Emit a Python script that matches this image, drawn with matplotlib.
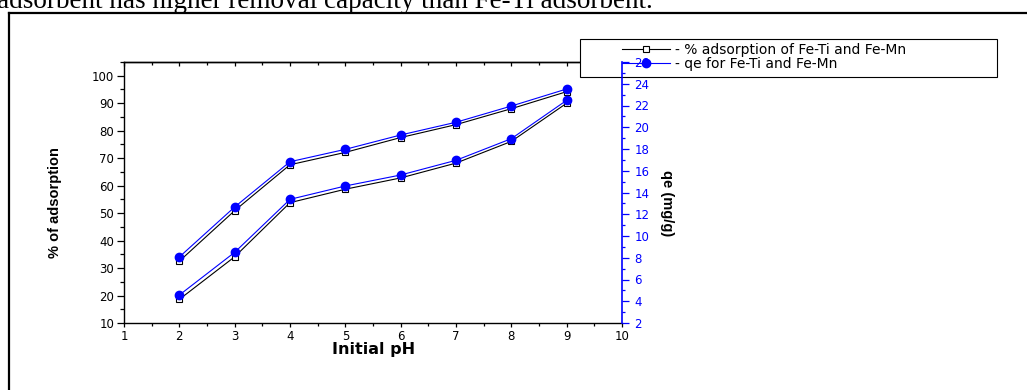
import matplotlib
matplotlib.use("Agg")
import matplotlib.pyplot as plt
from matplotlib.lines import Line2D
from matplotlib.patches import Rectangle
from matplotlib.ticker import MultipleLocator

# ---------------- data ----------------
ph = [2, 3, 4, 5, 6, 7, 8, 9]
ads_femn = [32.5, 50.9, 67.6, 72.1, 77.5, 82.2, 88.0, 94.2]
ads_feti = [18.6, 34.1, 53.8, 58.7, 62.8, 68.2, 76.1, 90.0]
qe_femn = [8.07, 12.67, 16.83, 17.97, 19.29, 20.46, 21.95, 23.52]
qe_feti = [4.57, 8.50, 13.37, 14.60, 15.61, 16.96, 18.95, 22.48]
legend_labels = ["- % adsorption of Fe-Ti and Fe-Mn", "- qe for Fe-Ti and Fe-Mn"]
header_text = "adsorbent has higher removal capacity than Fe-Ti adsorbent."

W, H = 1027, 390
def fx(px):
    return px / W
def fy(py):
    return 1 - py / H

fig = plt.figure(figsize=(W / 100, H / 100), dpi=100)
fig.patch.set_facecolor("white")

BLUE = "#0000ff"
tickfont = {"family": "DejaVu Sans", "size": 8.5}

ax = fig.add_axes([fx(124), fy(323), (622 - 124) / W, (323 - 62) / H])
ax.plot(ph, ads_femn, color="black", lw=0.8, marker="s", ms=5, mfc="white",
        mec="black", mew=0.8, zorder=3)
ax.plot(ph, ads_feti, color="black", lw=0.8, marker="s", ms=5, mfc="white",
        mec="black", mew=0.8, zorder=3)
ax.set_xlim(1, 10)
ax.set_ylim(10, 105)
ax.set_xticks(range(1, 11))
ax.set_yticks(range(10, 101, 10))
ax.xaxis.set_minor_locator(MultipleLocator(0.5))
ax.yaxis.set_minor_locator(MultipleLocator(5))
ax.tick_params(axis="y", which="major", direction="out", length=5, width=0.9, pad=2)
ax.tick_params(axis="y", which="minor", direction="out", length=3, width=0.9)
ax.tick_params(axis="x", which="major", direction="out", length=3, width=0.9, pad=2)
ax.tick_params(axis="x", which="minor", direction="out", length=2, width=0.9)
for lab in ax.get_xticklabels() + ax.get_yticklabels():
    lab.set_fontfamily(tickfont["family"])
    lab.set_fontsize(tickfont["size"])
for s in ["left", "bottom", "top"]:
    ax.spines[s].set_linewidth(1.0)
ax.spines["right"].set_visible(False)

sec = ax.secondary_xaxis("top")
sec.set_xticks(range(1, 11))
sec.xaxis.set_minor_locator(MultipleLocator(0.5))
sec.tick_params(which="major", direction="in", length=3, width=0.9, labeltop=False)
sec.tick_params(which="minor", direction="in", length=2, width=0.9)
sec.spines["top"].set_linewidth(1.0)

ax.set_ylabel("% of adsorption", fontfamily="Liberation Sans", fontweight="bold", fontsize=10.5)
ax.yaxis.set_label_coords(-0.1245, 0.46)
ax.set_xlabel("Initial pH", fontfamily="DejaVu Sans", fontweight="bold", fontsize=11.5)
ax.xaxis.set_label_coords(0.501, -0.072)

ax2 = ax.twinx()
ax2.set_zorder(1)
ax2.patch.set_visible(False)
ax2.plot(ph, qe_femn, color=BLUE, lw=0.8, marker="o", ms=6, mfc=BLUE, mec=BLUE, zorder=4)
ax2.plot(ph, qe_feti, color=BLUE, lw=0.8, marker="o", ms=6, mfc=BLUE, mec=BLUE, zorder=4)
ax2.set_ylim(2, 26)
ax2.set_yticks(range(2, 27, 2))
ax2.yaxis.set_minor_locator(MultipleLocator(1))
ax2.tick_params(axis="y", which="major", direction="out", length=5, width=0.9,
                colors=BLUE, pad=4)
ax2.tick_params(axis="y", which="minor", direction="out", length=2.5, width=0.9, colors=BLUE)
for lab in ax2.get_yticklabels():
    lab.set_fontfamily(tickfont["family"])
    lab.set_fontsize(tickfont["size"])
for s in ["left", "bottom", "top"]:
    ax2.spines[s].set_visible(False)
ax2.spines["right"].set_color(BLUE)
ax2.spines["right"].set_linewidth(1.2)
ax2.set_ylabel("qe (mg/g)", fontfamily="Liberation Sans", fontweight="bold", fontsize=10.5,
               rotation=270, color="black")
ax2.yaxis.set_label_coords(1.104, 0.46)

# legend frame (between black axes and blue axis)
rect = Rectangle((fx(580), fy(77)), (997 - 580) / W, (77 - 39) / H,
                 transform=fig.transFigure, facecolor="white", edgecolor="black",
                 lw=0.8, zorder=0.5)
fig.add_artist(rect)

handles = [
    Line2D([], [], color="black", lw=0.8, marker="s", ms=5, mfc="white", mec="black", mew=0.8),
    Line2D([], [], color=BLUE, lw=0.8, marker="o", ms=6, mfc=BLUE, mec=BLUE),
]
fs = 10
fspx = fs * 100 / 72
leg = fig.legend(handles, legend_labels, loc="upper left",
                 bbox_to_anchor=(fx(622), fy(43)), frameon=False,
                 prop={"family": "DejaVu Sans", "size": fs},
                 borderpad=0, borderaxespad=0, handlelength=48 / fspx,
                 handletextpad=5 / fspx, labelspacing=0.0)
leg.set_zorder(5)

# document frame and header text
fig.add_artist(Line2D([fx(9), fx(9)], [fy(13), 0], transform=fig.transFigure,
                      color="black", lw=1.6))
fig.add_artist(Line2D([fx(9), 1], [fy(13), fy(13)], transform=fig.transFigure,
                      color="black", lw=1.6))
fig.text(fx(-3), fy(8), header_text, fontfamily="Liberation Serif", fontsize=19.5,
         va="baseline", ha="left")

fig.savefig("out.png", dpi=100)
